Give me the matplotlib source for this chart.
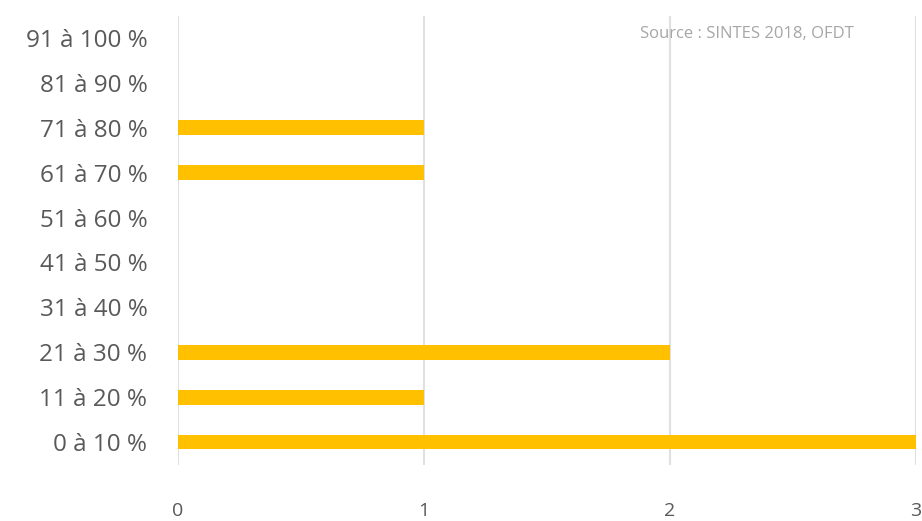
import matplotlib.pyplot as plt

categories = ["0 à 10 %", "11 à 20 %", "21 à 30 %", "31 à 40 %", "41 à 50 %",
              "51 à 60 %", "61 à 70 %", "71 à 80 %", "81 à 90 %", "91 à 100 %"]
counts = [3, 1, 2, 0, 0, 0, 1, 1, 0, 0]
x_ticks = [0, 1, 2, 3]
source = "Source : SINTES 2018, OFDT"

plt.rcParams['font.family'] = ['Open Sans', 'DejaVu Sans']

fig = plt.figure(figsize=(9.22, 5.21), dpi=100)
ax = fig.add_axes([0.1931, 0.1084, 0.8004, 0.8618])

ax.barh(range(len(categories)), counts, height=0.33, color="#FFC000", zorder=3)

ax.set_xlim(0, 3)
ax.set_ylim(-0.5, len(categories) - 0.5)
ax.set_xticks(x_ticks)
ax.set_yticks(range(len(categories)))
ax.set_yticklabels(categories)
ax.grid(axis="x", color="#E0E0E0", linewidth=1.5, zorder=0)
for s in ax.spines.values():
    s.set_visible(False)
ax.tick_params(axis="y", length=0, pad=22, labelsize=17.5, labelcolor="#595959")
ax.tick_params(axis="x", length=0, pad=27, labelsize=14, labelcolor="#595959")

fig.text(0.694, 0.935, source, fontsize=12, color="#A6A6A6", ha="left", va="center")

fig.savefig("out.png", dpi=100)
